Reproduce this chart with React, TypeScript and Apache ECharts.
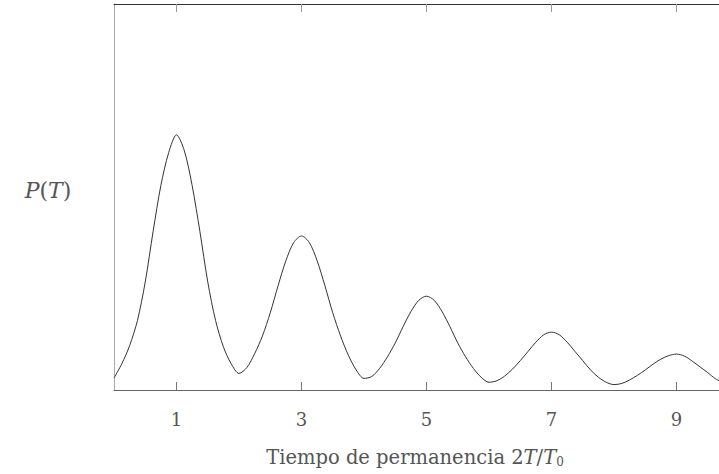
import React, { useEffect, useRef } from "react";
import * as echarts from "echarts";

const tValues = [
  0, 0.125, 0.25, 0.375, 0.5, 0.625, 0.75, 0.875, 1.0, 1.125, 1.25, 1.375, 1.5, 1.625, 1.75, 1.875,
  2.0, 2.125, 2.25, 2.375, 2.5, 2.625, 2.75, 2.875, 3.0, 3.125, 3.25, 3.375, 3.5, 3.625, 3.75, 3.875,
  4.0, 4.125, 4.25, 4.375, 4.5, 4.625, 4.75, 4.875, 5.0, 5.125, 5.25, 5.375, 5.5, 5.625, 5.75, 5.875,
  6.0, 6.125, 6.25, 6.375, 6.5, 6.625, 6.75, 6.875, 7.0, 7.125, 7.25, 7.375, 7.5, 7.625, 7.75, 7.875,
  8.0, 8.125, 8.25, 8.375, 8.5, 8.625, 8.75, 8.875, 9.0, 9.125, 9.25, 9.375, 9.5, 9.625, 9.75,
];
const pValues = [
  0.031, 0.068, 0.115, 0.18, 0.28, 0.41, 0.53, 0.615, 0.661, 0.62, 0.53, 0.41, 0.28, 0.18, 0.112, 0.068,
  0.043, 0.058, 0.094, 0.14, 0.2, 0.27, 0.335, 0.382, 0.399, 0.382, 0.335, 0.27, 0.2, 0.14, 0.09, 0.052,
  0.03, 0.035, 0.056, 0.086, 0.122, 0.164, 0.203, 0.232, 0.243, 0.232, 0.203, 0.164, 0.122, 0.086, 0.056, 0.033,
  0.02, 0.024, 0.036, 0.054, 0.076, 0.1, 0.124, 0.143, 0.15, 0.143, 0.124, 0.1, 0.076, 0.052, 0.033, 0.02,
  0.014, 0.017, 0.026, 0.038, 0.052, 0.067, 0.08, 0.089, 0.093, 0.088, 0.075, 0.06, 0.045, 0.029, 0.02,
];
const tickValues = [1, 3, 5, 7, 9];

const SERIF = "DejaVu Serif";

export default function App() {
  const ref = useRef<HTMLDivElement>(null);
  useEffect(() => {
    if (!ref.current) return;
    const chart = echarts.init(ref.current, null, { renderer: "svg" });
    const data = tValues.map((t, i) => [t, pValues[i]]);
    const xMax = 9.68;
    chart.setOption({
      animation: false,
      backgroundColor: "#ffffff",
      grid: { left: 114, top: 4, right: 0, height: 386, containLabel: false, outerBoundsMode: "none" },
      xAxis: [
        {
          type: "value",
          min: 0,
          max: xMax,
          position: "bottom",
          axisLine: { show: true, lineStyle: { color: "#666", width: 1 } },
          axisTick: {
            show: true,
            inside: true,
            length: 8,
            customValues: tickValues,
            lineStyle: { color: "#777", width: 1 },
          },
          axisLabel: {
            show: true,
            customValues: tickValues,
            margin: 20,
            fontFamily: SERIF,
            fontSize: 18,
            color: "#555",
          },
          splitLine: { show: false },
        },
        {
          type: "value",
          min: 0,
          max: xMax,
          position: "top",
          axisLine: { show: true, lineStyle: { color: "#333", width: 1 } },
          axisTick: {
            show: true,
            inside: true,
            length: 8,
            customValues: tickValues,
            lineStyle: { color: "#999", width: 1 },
          },
          axisLabel: { show: false },
          splitLine: { show: false },
        },
      ],
      yAxis: {
        type: "value",
        min: 0,
        max: 1,
        axisLine: { show: true, lineStyle: { color: "#aaa", width: 1 } },
        axisTick: { show: false },
        axisLabel: { show: false },
        splitLine: { show: false },
      },
      series: [
        {
          type: "line",
          data,
          smooth: 0.3,
          showSymbol: false,
          clip: true,
          lineStyle: { color: "#333", width: 1 },
        },
      ],
      graphic: [
        {
          type: "text",
          x: 48,
          y: 190,
          style: {
            text: "{i|P}{n|(}{i|T}{n|)}",
            align: "center",
            verticalAlign: "middle",
            rich: {
              i: { fontFamily: SERIF, fontStyle: "italic", fontSize: 22, fill: "#555" },
              n: { fontFamily: SERIF, fontSize: 22, fill: "#555" },
            },
          },
        },
        {
          type: "text",
          x: 415,
          y: 457,
          style: {
            text: "{n|Tiempo de permanencia 2}{i|T}{n|/}{i|T}{s|0}",
            align: "center",
            verticalAlign: "middle",
            rich: {
              n: { fontFamily: SERIF, fontSize: 19.5, fill: "#555" },
              i: { fontFamily: SERIF, fontStyle: "italic", fontSize: 19.5, fill: "#555" },
              s: { fontFamily: SERIF, fontSize: 12, fill: "#555", verticalAlign: "bottom", padding: [10, 0, 0, 0] },
            },
          },
        },
      ],
    });
    return () => chart.dispose();
  }, []);
  return <div ref={ref} style={{ width: 719, height: 474, position: "absolute", left: 0, top: 0 }} />;
}
